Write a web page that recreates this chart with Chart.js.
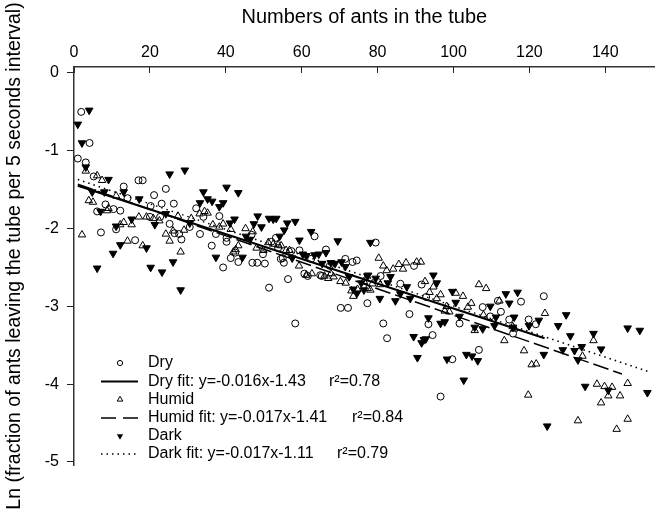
<!DOCTYPE html>
<html><head><meta charset="utf-8">
<script src="https://cdn.jsdelivr.net/npm/chart.js@4.4.1/dist/chart.umd.min.js"></script>
<style>html,body{margin:0;padding:0;background:#fff}#wrap{width:660px;height:512px;position:relative}</style>
</head><body><div id="wrap"><canvas id="c"></canvas></div>
<script>
const xTitle = 'Numbers of ants in the tube';
const yTitle = 'Ln (fraction of ants leaving the tube per 5 seconds interval)';
const xTicks = [0, 20, 40, 60, 80, 100, 120, 140];
const yTicks = [0, -1, -2, -3, -4, -5];
const legendNames = ['Dry', 'Dry fit: y=-0.016x-1.43', 'Humid', 'Humid fit: y=-0.017x-1.41', 'Dark', 'Dark fit: y=-0.017x-1.11'];
const r2Labels = ['r\u00B2=0.78', 'r\u00B2=0.84', 'r\u00B2=0.79'];

const dry = [[1.0,-1.10],[1.9,-0.50],[4.1,-0.90],[3.1,-1.15],[5.2,-1.33],[17.0,-1.38],[18.1,-1.38],[13.1,-1.46],[24.2,-1.49],[21.1,-1.57],[14.1,-1.61],[8.3,-1.69],[10.4,-1.75],[12.2,-1.77],[6.1,-1.78],[20.2,-1.71],[23.1,-1.68],[26.3,-1.68],[20.0,-1.85],[25.2,-1.94],[7.1,-2.05],[11.1,-2.01],[16.1,-2.15],[22.7,-1.85],[32.2,-1.74],[34.1,-1.85],[38.3,-1.84],[33.2,-2.07],[27.7,-2.07],[26.5,-2.06],[28.3,-2.14],[30.5,-1.98],[36.3,-2.22],[40.2,-2.17],[37.4,-2.07],[39.3,-2.50],[41.3,-2.38],[42.5,-2.31],[43.3,-2.43],[47.0,-2.44],[48.3,-2.44],[49.8,-2.33],[51.4,-2.76],[55.0,-2.38],[56.4,-2.65],[58.3,-3.22],[70.3,-3.02],[72.2,-3.02],[63.4,-2.10],[53.2,-2.12],[40.2,-2.12],[50.3,-2.45],[55.3,-2.44],[60.7,-2.58],[59.4,-2.28],[62.5,-2.39],[66.4,-2.27],[67.4,-2.48],[71.5,-2.39],[73.4,-2.43],[74.5,-2.41],[65.3,-2.61],[53.8,-2.25],[57.3,-2.29],[52.0,-2.17],[46.8,-2.08],[54.5,-2.39],[61.6,-2.61],[64.9,-2.60],[77.3,-2.96],[79.5,-2.18],[80.8,-2.61],[86.0,-2.71],[89.6,-2.48],[91.6,-2.72],[92.8,-2.88],[88.4,-3.10],[81.5,-3.22],[93.4,-3.23],[94.5,-3.37],[82.5,-3.41],[101.6,-3.22],[107.7,-3.01],[109.7,-3.13],[112.5,-3.07],[114.7,-3.17],[111.7,-2.93],[115.7,-3.35],[106.7,-3.56],[99.7,-3.68],[96.6,-4.16],[123.8,-2.87],[117.8,-2.94],[119.8,-3.17],[121.7,-3.23]];

const humid = [[1.1,0.15],[3.1,-1.26],[6.1,-1.32],[7.4,-1.38],[3.9,-1.64],[5.0,-1.66],[9.1,-1.74],[8.7,-1.77],[11.1,-1.58],[2.1,-2.08],[12.2,-1.95],[13.1,-1.92],[15.2,-1.95],[17.1,-1.85],[19.1,-1.85],[20.9,-1.87],[22.5,-1.90],[14.1,-2.16],[18.1,-2.22],[24.2,-2.07],[26.1,-2.03],[25.2,-2.16],[27.4,-1.84],[29.0,-2.02],[30.9,-1.87],[33.1,-1.81],[34.4,-1.78],[35.2,-1.80],[36.6,-1.95],[38.3,-1.98],[39.3,-1.94],[41.3,-2.01],[28.1,-2.30],[45.2,-2.00],[47.1,-2.04],[43.3,-2.22],[48.1,-2.25],[49.9,-2.28],[51.2,-2.18],[52.5,-2.20],[53.8,-2.21],[54.6,-2.22],[55.9,-2.28],[56.8,-2.28],[59.3,-2.48],[61.2,-2.60],[62.7,-2.58],[68.4,-2.62],[42.0,-2.30],[42.6,-2.27],[66.0,-2.61],[67.0,-2.64],[67.7,-2.58],[70.2,-2.68],[71.6,-2.70],[73.1,-2.80],[74.7,-2.78],[76.4,-2.68],[77.4,-2.77],[78.6,-2.71],[73.6,-2.87],[80.3,-2.38],[81.5,-2.48],[82.4,-2.54],[84.1,-2.52],[85.6,-2.46],[86.7,-2.52],[87.5,-2.44],[90.3,-2.43],[91.4,-2.43],[92.5,-2.68],[94.7,-2.75],[93.7,-2.82],[95.6,-2.90],[96.6,-2.85],[98.2,-3.00],[97.7,-3.06],[78.1,-2.79],[80.7,-2.72],[100.6,-2.83],[102.5,-2.87],[103.8,-3.01],[104.7,-2.96],[106.7,-2.72],[108.6,-2.77],[112.1,-2.93],[107.9,-3.11],[105.6,-3.31],[115.6,-3.26],[116.0,-3.29],[118.6,-3.57],[120.6,-3.75],[121.8,-3.74],[124.1,-3.09],[134.0,-3.64],[136.9,-3.44],[137.8,-4.00],[139.8,-4.03],[141.8,-4.04],[140.8,-4.15],[143.9,-4.15],[145.9,-3.99],[138.9,-4.24],[119.7,-4.14],[132.8,-4.47],[143.0,-4.58],[145.9,-4.45],[113.4,-3.44],[98.9,-3.07]];

const dark = [[4.0,-0.48],[1.0,-0.66],[2.1,-0.90],[3.1,-1.21],[9.1,-1.37],[4.8,-1.53],[8.0,-1.53],[25.2,-1.30],[29.2,-1.25],[13.1,-1.53],[17.2,-1.62],[7.0,-1.78],[11.1,-1.97],[15.2,-1.88],[21.3,-1.95],[24.2,-1.81],[30.5,-1.93],[34.1,-1.53],[40.2,-1.47],[35.2,-1.62],[36.4,-1.65],[38.3,-1.72],[39.3,-1.67],[33.2,-1.67],[12.2,-2.21],[19.1,-2.25],[41.1,-1.93],[6.1,-2.51],[10.3,-2.32],[20.2,-2.50],[23.2,-2.56],[26.1,-2.43],[28.1,-2.79],[37.4,-2.37],[44.4,-2.37],[43.3,-1.54],[42.3,-1.88],[48.4,-1.84],[49.4,-1.98],[51.4,-1.87],[52.5,-1.88],[53.3,-1.87],[55.4,-2.02],[56.2,-1.93],[58.3,-1.91],[54.2,-2.10],[47.4,-1.94],[45.3,-2.10],[46.4,-2.14],[59.4,-2.15],[62.5,-2.04],[57.5,-2.38],[60.3,-2.33],[61.2,-2.35],[63.4,-2.34],[64.5,-2.33],[66.4,-2.31],[69.5,-2.16],[65.4,-2.45],[67.7,-2.44],[68.8,-2.45],[71.5,-2.49],[70.5,-2.43],[77.5,-2.60],[78.1,-2.18],[72.5,-2.62],[75.7,-2.70],[73.6,-2.78],[74.6,-2.83],[76.4,-2.79],[77.3,-2.61],[79.5,-2.64],[83.4,-2.62],[82.7,-2.70],[80.6,-2.90],[84.7,-2.93],[86.0,-2.84],[87.7,-2.75],[88.6,-2.90],[94.7,-2.60],[95.6,-2.70],[99.7,-2.81],[100.6,-2.95],[93.4,-3.15],[96.6,-3.22],[97.7,-3.20],[89.5,-3.39],[92.2,-3.43],[113.8,-2.84],[114.7,-2.96],[109.7,-3.00],[116.0,-3.14],[107.7,-3.29],[105.6,-3.27],[110.8,-3.25],[101.6,-3.13],[91.6,-3.47],[92.7,-3.42],[90.5,-3.66],[98.3,-3.68],[103.4,-3.62],[104.9,-3.64],[106.4,-3.70],[102.7,-3.95],[116.9,-2.82],[111.2,-3.14],[115.7,-3.27],[119.9,-3.25],[122.5,-3.18],[123.8,-3.62],[127.6,-3.25],[129.7,-3.11],[130.8,-3.38],[128.8,-3.56],[131.9,-3.57],[133.8,-3.52],[132.8,-3.69],[136.9,-3.35],[138.9,-3.55],[145.9,-3.28],[149.1,-3.31],[151.1,-4.11],[134.7,-4.03],[140.8,-4.08],[124.7,-4.54]];

// fitted lines as drawn (end points)
const dryFit = [[1, -1.45], [124, -3.41]];
const humidFit = [[1, -1.43], [144.4, -3.87]];
const darkFit = [[1, -1.37], [152, -3.85]];

const FONT = "'Liberation Sans', Arial, sans-serif";
const toPts = a => a.map(p => ({x: p[0], y: p[1]}));

const bgPlugin = {
  id: 'bg',
  beforeDraw(chart) {
    const c = chart.ctx; c.save(); c.fillStyle = '#fff';
    c.fillRect(0, 0, chart.width, chart.height); c.restore();
  }
};

function drawMarker(c, kind, x, y, r) {
  c.beginPath();
  if (kind === 'circle') {
    c.arc(x, y, r, 0, Math.PI * 2);
    c.stroke();
  } else if (kind === 'tri') {
    const R = r * 1.15;
    c.moveTo(x, y - R);
    c.lineTo(x + R * 0.866, y + R * 0.5);
    c.lineTo(x - R * 0.866, y + R * 0.5);
    c.closePath(); c.stroke();
  } else {
    const R = r * 1.15;
    c.moveTo(x, y + R);
    c.lineTo(x + R * 0.866, y - R * 0.5);
    c.lineTo(x - R * 0.866, y - R * 0.5);
    c.closePath(); c.fill();
  }
}

const extrasPlugin = {
  id: 'extras',
  afterDraw(chart) {
    const c = chart.ctx;
    c.save();
    c.fillStyle = '#000';
    c.font = '19.5px ' + FONT;
    c.textAlign = 'center'; c.textBaseline = 'middle';
    c.translate(15, 256); c.rotate(-Math.PI / 2);
    c.fillText(yTitle, 0, 0);
    c.restore();

    c.save();
    c.fillStyle = '#000'; c.strokeStyle = '#000';
    c.font = '16px ' + FONT;
    c.textAlign = 'left'; c.textBaseline = 'middle';
    const rows = [363, 381.5, 399.5, 418, 436, 454];
    const tx = 148;
    legendNames.forEach((t, i) => c.fillText(t, tx, rows[i]));
    c.fillText(r2Labels[0], 329, rows[1]);
    c.fillText(r2Labels[1], 352, rows[3]);
    c.fillText(r2Labels[2], 337, rows[5]);
    c.lineWidth = 1;
    drawMarker(c, 'circle', 120, rows[0], 2.6);
    drawMarker(c, 'tri', 120, rows[2], 2.8);
    drawMarker(c, 'dark', 120, rows[4], 3.2);
    c.lineWidth = 2; c.setLineDash([]);
    c.beginPath(); c.moveTo(101, rows[1]); c.lineTo(138, rows[1]); c.stroke();
    c.lineWidth = 1.5; c.setLineDash([15, 7]);
    c.beginPath(); c.moveTo(101, rows[3]); c.lineTo(138, rows[3]); c.stroke();
    c.setLineDash([1.5, 4]);
    c.beginPath(); c.moveTo(101, rows[5]); c.lineTo(138, rows[5]); c.stroke();
    c.restore();
  }
};

new Chart(document.getElementById('c'), {
  type: 'scatter',
  data: {
    datasets: [
      {label: 'Dry fit', type: 'line', data: toPts(dryFit), borderColor: '#000', borderWidth: 2, pointRadius: 0, fill: false, clip: false},
      {label: 'Humid fit', type: 'line', data: toPts(humidFit), borderColor: '#000', borderWidth: 1.5, borderDash: [16, 5], pointRadius: 0, fill: false, clip: false},
      {label: 'Dark fit', type: 'line', data: toPts(darkFit), borderColor: '#000', borderWidth: 1.5, borderDash: [1.5, 4], pointRadius: 0, fill: false, clip: false},
      {label: 'Dry', data: toPts(dry), pointStyle: 'circle', pointRadius: 3.5, borderColor: '#000', borderWidth: 1, backgroundColor: 'rgba(0,0,0,0)', clip: false},
      {label: 'Humid', data: toPts(humid), pointStyle: 'triangle', pointRadius: 4.3, borderColor: '#000', borderWidth: 1, backgroundColor: 'rgba(0,0,0,0)', clip: false},
      {label: 'Dark', data: toPts(dark), pointStyle: 'triangle', rotation: 180, pointRadius: 4.4, borderColor: '#000', borderWidth: 1, backgroundColor: '#000', clip: false}
    ]
  },
  options: {
    responsive: true, maintainAspectRatio: false, animation: false,
    layout: {padding: {left: 0, right: 0, top: 0, bottom: 47}},
    plugins: {legend: {display: false}, tooltip: {enabled: false}},
    scales: {
      x: {
        type: 'linear', position: 'top', min: 0, max: 153,
        afterBuildTicks: s => { s.ticks = xTicks.map(v => ({value: v})); },
        afterFit: s => { s.height = 67; },
        grid: {drawOnChartArea: false, drawTicks: true, tickLength: -6, color: '#222', lineWidth: 1},
        border: {display: true, color: '#333', width: 1.5},
        ticks: {color: '#000', font: {family: FONT, size: 16}, padding: 11, maxRotation: 0},
        title: {display: true, text: xTitle, color: '#000', font: {family: FONT, size: 20}, padding: {top: 5, bottom: 0}}
      },
      y: {
        type: 'linear', min: -5.04, max: 0.077,
        afterBuildTicks: s => { s.ticks = yTicks.map(v => ({value: v})); },
        afterFit: s => { s.width = 74; },
        grid: {drawOnChartArea: false, drawTicks: true, tickLength: 7, color: '#222', lineWidth: 1},
        border: {display: true, color: '#333', width: 1.5},
        ticks: {color: '#000', font: {family: FONT, size: 16}, padding: 8},
        title: {display: false}
      }
    }
  },
  plugins: [bgPlugin, extrasPlugin]
});
</script>
</body></html>
